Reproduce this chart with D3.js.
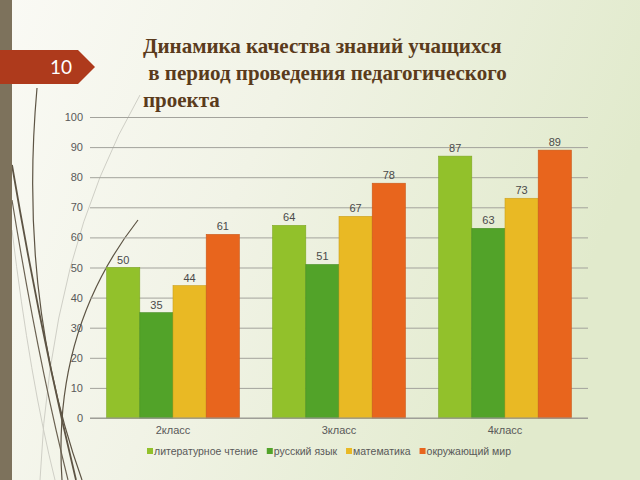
<!DOCTYPE html>
<html><head><meta charset="utf-8">
<script src="https://cdn.jsdelivr.net/npm/d3@7"></script>
<style>body{margin:0;padding:0;overflow:hidden}svg{display:block}</style>
</head><body>
<svg id="c" width="640" height="480"></svg>
<script>
const categories = ["2класс", "3класс", "4класс"];
const seriesNames = ["литературное чтение", "русский язык", "математика", "окружающий мир"];
const litValues = [50, 64, 87];
const rusValues = [35, 51, 63];
const mathValues = [44, 67, 73];
const okrValues = [61, 78, 89];
const yTicks = [0, 10, 20, 30, 40, 50, 60, 70, 80, 90, 100];
const colors = ["#92c12b", "#52a329", "#e9b924", "#e8651d"];
const titleLines = ["Динамика качества знаний учащихся", " в период проведения педагогического", "проекта"];
const slideNumber = "10";

const seriesValues = [litValues, rusValues, mathValues, okrValues];
const svg = d3.select("#c");
const defs = svg.append("defs");
const grad = defs.append("linearGradient").attr("id", "bg").attr("x1", "0").attr("y1", "0").attr("x2", "1").attr("y2", "0.3");
grad.append("stop").attr("offset", "0").attr("stop-color", "#fafaf5");
grad.append("stop").attr("offset", "0.45").attr("stop-color", "#f1f3e6");
grad.append("stop").attr("offset", "1").attr("stop-color", "#e1eacc");
svg.append("rect").attr("width", 640).attr("height", 480).attr("fill", "url(#bg)");

// decorative curves
const deco = svg.append("g").attr("fill", "none");
[["M140,95 Q50,250 40,480", "#cfcfc6", 1],
 ["M12,230 Q30,380 55,480", "#cfcfc6", 1],
 ["M37,88 Q18,300 82,480", "#5d5444", 1.2],
 ["M138,220 Q52,330 62,480", "#5d5444", 1.2],
 ["M12,165 Q40,330 76,480", "#5d5444", 1.8],
 ["M12,200 Q38,360 68,480", "#6b6252", 1.2]
].forEach(([d, c, w]) => deco.append("path").attr("d", d).attr("stroke", c).attr("stroke-width", w));

// left bar
svg.append("rect").attr("x", 0).attr("y", 0).attr("width", 12).attr("height", 480).attr("fill", "#7d725c");
// slide number tag
svg.append("path").attr("d", "M0,50 L78,50 L95,67 L78,84 L0,84 Z").attr("fill", "#ae3a1c");
svg.append("text").attr("x", 61).attr("y", 74).attr("text-anchor", "middle")
  .attr("font-family", "Lato, 'Open Sans', sans-serif").attr("font-size", 19).attr("fill", "#ffffff").text(slideNumber);

// title
const title = svg.append("text").attr("font-family", "'Liberation Serif', 'Times New Roman', serif")
  .attr("font-weight", "bold").attr("font-size", 21).attr("fill", "#5a3b1c");
titleLines.forEach((t, i) => title.append("tspan").attr("x", 143).attr("y", 53 + i * 27)
  .attr("xml:space", "preserve").style("white-space", "pre").text(t));

// chart
const x0 = d3.scaleBand().domain(categories).range([90, 588]).paddingInner(0.2).paddingOuter(0.1);
const x1 = d3.scaleBand().domain(seriesNames).range([0, x0.bandwidth()]);
const y = d3.scaleLinear().domain([0, 100]).range([418, 117]);

const yAxis = svg.append("g").attr("transform", "translate(90,0)")
  .call(d3.axisLeft(y).tickValues(yTicks).tickSize(-498).tickPadding(7));
yAxis.select(".domain").remove();
yAxis.selectAll(".tick line").attr("stroke", "#a3a39c").attr("stroke-width", 1);
yAxis.selectAll(".tick text").attr("fill", "#595959").attr("font-size", 11)
  .attr("font-family", "'Liberation Sans', Arial, sans-serif");

const groups = svg.append("g").selectAll("g").data(categories).join("g")
  .attr("transform", d => `translate(${x0(d)},0)`);
groups.each(function(cat, ci) {
  const g = d3.select(this);
  seriesNames.forEach((s, si) => {
    const v = seriesValues[si][ci];
    g.append("rect").attr("x", x1(s)).attr("y", y(v)).attr("width", x1.bandwidth())
      .attr("height", y(0) - y(v)).attr("fill", colors[si])
      .attr("stroke", d3.color(colors[si]).darker(0.4)).attr("stroke-width", 0.6);
    g.append("text").attr("x", x1(s) + x1.bandwidth() / 2).attr("y", y(v) - 4)
      .attr("text-anchor", "middle").attr("font-size", 11).attr("fill", "#4a4a4a")
      .attr("font-family", "'Liberation Sans', Arial, sans-serif").text(v);
  });
});
svg.append("line").attr("x1", 90).attr("x2", 588).attr("y1", y(0)).attr("y2", y(0)).attr("stroke", "#9a9a92");

const xAxis = svg.append("g").attr("transform", `translate(0,${y(0)})`)
  .call(d3.axisBottom(x0).tickSize(0).tickPadding(8));
xAxis.select(".domain").remove();
xAxis.selectAll(".tick text").attr("fill", "#595959").attr("font-size", 11)
  .attr("font-family", "'Liberation Sans', Arial, sans-serif");

// legend
const legend = svg.append("g");
let lx = 147;
seriesNames.forEach((s, i) => {
  legend.append("rect").attr("x", lx).attr("y", 448).attr("width", 6).attr("height", 6).attr("fill", colors[i]);
  const t = legend.append("text").attr("x", lx + 7).attr("y", 455).attr("font-size", 10.5).attr("fill", "#595959")
    .attr("font-family", "'Liberation Sans', Arial, sans-serif").text(s);
  lx += 7 + t.node().getComputedTextLength() + 9;
});
</script>
</body></html>
